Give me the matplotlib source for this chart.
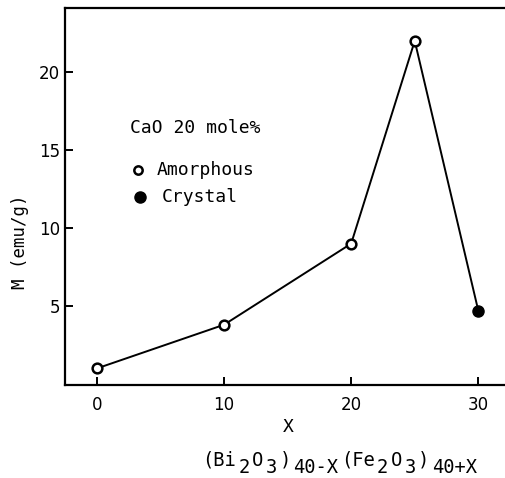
import matplotlib
matplotlib.use("Agg")
import matplotlib.pyplot as plt

# data
x_amorphous = [0, 10, 20, 25]
m_amorphous = [1.0, 3.8, 9.0, 22.0]
x_crystal = [30]
m_crystal = [4.7]
x_ticks = [0, 10, 20, 30]
y_ticks = [5, 10, 15, 20]

# composition label pieces: (text, is_subscript)
formula_parts = [('(Bi', False), ('2', True), ('O', False), ('3', True), (')', False),
                 ('40-X', True), ('(Fe', False), ('2', True), ('O', False),
                 ('3', True), (')', False), ('40+X', True)]

MONO = 'DejaVu Sans Mono'
plt.rcParams['font.family'] = ['DejaVu Sans']

fig = plt.figure(figsize=(5.05, 4.78), dpi=100)
ax = fig.add_axes([0.129, 0.195, 0.871, 0.788])

# connecting line through all points
x_all = x_amorphous + x_crystal
m_all = m_amorphous + m_crystal
ax.plot(x_all, m_all, color='black', linewidth=1.4, zorder=2)
ax.plot(x_amorphous, m_amorphous, 'o', markersize=7, markerfacecolor='white',
        markeredgecolor='black', markeredgewidth=1.8, zorder=3)
ax.plot(x_crystal, m_crystal, 'o', markersize=8, color='black', zorder=3)

ax.set_xlim(-2.5, 32.1)
ax.set_ylim(-0.05, 24.1)
ax.set_xticks(x_ticks)
ax.set_yticks(y_ticks)
ax.tick_params(direction='in', length=6, width=1.4, labelsize=12)
ax.tick_params(axis='x', pad=8)
for s in ['left', 'top', 'bottom']:
    ax.spines[s].set_linewidth(1.6)
ax.spines['right'].set_visible(False)

# y label placed like the original (lower than axis centre)
fig.text(20 / 505, 1 - 242 / 478, 'M (emu/g)', fontsize=12.5, family=MONO,
         rotation=90, ha='center', va='center')

# in-plot key
ax.text(2.6, 16.4, 'CaO 20 mole%', fontsize=13, family=MONO, va='center')
ax.plot([3.2], [13.7], 'o', markersize=6, markerfacecolor='white',
        markeredgecolor='black', markeredgewidth=1.8)
ax.text(4.7, 13.7, 'Amorphous', fontsize=13, family=MONO, va='center')
ax.plot([3.4], [12.0], 'o', markersize=8, color='black')
ax.text(5.1, 12.0, 'Crystal', fontsize=13, family=MONO, va='center')

fig.text(288 / 505, 1 - 427 / 478, 'X', fontsize=13, family=MONO,
         ha='center', va='center')

# composition label with full-size subscripts, chained piece by piece
prev = fig.text(202 / 505, 1 - 470 / 478, formula_parts[0][0], fontsize=13.5,
                family=MONO, ha='left', va='bottom')
prev_sub = formula_parts[0][1]
for txt, sub in formula_parts[1:]:
    dy = 0
    if sub and not prev_sub:
        dy = -5
    elif prev_sub and not sub:
        dy = 5
    prev = ax.annotate(txt, xy=(1, 0), xycoords=prev, xytext=(1.8, dy),
                       textcoords='offset points', fontsize=13.5, family=MONO,
                       ha='left', va='bottom', annotation_clip=False)
    prev_sub = sub

fig.savefig('out.png', dpi=100)
